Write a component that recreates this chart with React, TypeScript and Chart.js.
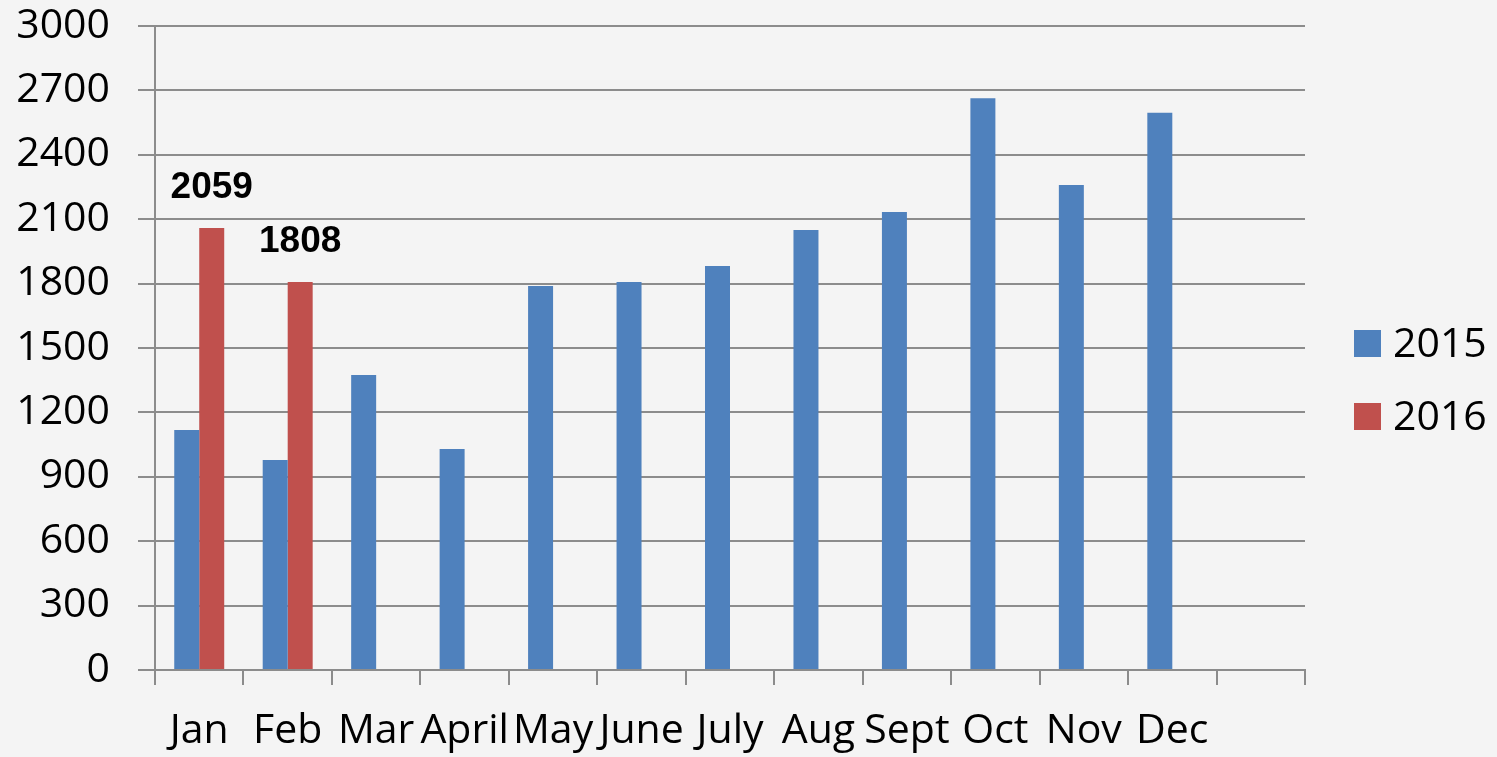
import React, { useEffect, useRef } from "react";
import { Chart, registerables } from "chart.js";

Chart.register(...registerables);

const months = ["Jan", "Feb", "Mar", "April", "May", "June", "July", "Aug", "Sept", "Oct", "Nov", "Dec", ""];
const values2015 = [1118, 978, 1374, 1029, 1789, 1807, 1882, 2050, 2133, 2663, 2259, 2596, null];
const values2016 = [2059, 1808, null, null, null, null, null, null, null, null, null, null, null];
const seriesNames = ["2015", "2016"];
const seriesColors = ["#4f81bd", "#c0504d"];
const yMin = 0;
const yMax = 3000;
const yStep = 300;

const FONT = "'Open Sans', sans-serif";
const FONT_SIZE = 41;

const valueLabelPlugin = {
  id: "valueLabels",
  afterDatasetsDraw(chart: any) {
    const ctx = chart.ctx;
    const meta = chart.getDatasetMeta(1);
    const data = chart.data.datasets[1].data;
    ctx.save();
    ctx.font = "bold 37px 'Liberation Sans', Arial, sans-serif";
    ctx.fillStyle = "#000000";
    ctx.textAlign = "center";
    ctx.textBaseline = "alphabetic";
    meta.data.forEach((el: any, i: number) => {
      const v = data[i];
      if (v === null || v === undefined) return;
      ctx.fillText(String(v), el.x, el.y - 30);
    });
    ctx.restore();
  },
};

const sideLegendPlugin = {
  id: "sideLegend",
  afterDraw(chart: any) {
    const ctx = chart.ctx;
    const area = chart.chartArea;
    const box = 27;
    const rowGap = 73;
    const x = area.right + 49;
    const mid = (area.top + area.bottom) / 2;
    const firstTop = mid - 18;
    ctx.save();
    ctx.font = `${FONT_SIZE}px ${FONT}`;
    ctx.textAlign = "left";
    ctx.textBaseline = "alphabetic";
    chart.data.datasets.forEach((ds: any, i: number) => {
      const top = firstTop + i * rowGap;
      ctx.fillStyle = ds.backgroundColor;
      ctx.fillRect(x, top, box, box);
      ctx.fillStyle = "#000000";
      ctx.fillText(ds.label, x + box + 12, top + box);
    });
    ctx.restore();
  },
};

export default function App() {
  const ref = useRef<HTMLCanvasElement>(null);
  useEffect(() => {
    document.body.style.margin = "0";
    const chart = new Chart(ref.current!, {
      type: "bar",
      data: {
        labels: months,
        datasets: [
          { label: seriesNames[0], data: values2015, backgroundColor: seriesColors[0], categoryPercentage: 0.565, barPercentage: 1 },
          { label: seriesNames[1], data: values2016, backgroundColor: seriesColors[1], categoryPercentage: 0.565, barPercentage: 1 },
        ],
      },
      options: {
        animation: false,
        responsive: false,
        maintainAspectRatio: false,
        layout: { padding: { top: 26, left: 0, right: 192, bottom: 0 } },
        plugins: {
          legend: { display: false },
          tooltip: { enabled: false },
        },
        scales: {
          x: {
            offset: true,
            afterFit(s: any) {
              s.height = 87;
              s.paddingLeft = 0;
              s.paddingRight = 0;
            },
            grid: {
              offset: true,
              drawOnChartArea: false,
              drawTicks: true,
              tickLength: 15,
              color: "#8c8c8c",
              lineWidth: 2,
            },
            border: { color: "#8c8c8c", width: 2 },
            ticks: {
              color: "#000000",
              font: { family: FONT, size: FONT_SIZE },
              padding: 22,
              maxRotation: 0,
              autoSkip: false,
            },
          },
          y: {
            min: yMin,
            max: yMax,
            afterFit(s: any) {
              s.width = 155;
              s.paddingTop = 0;
              s.paddingBottom = 0;
            },
            grid: { color: "#8c8c8c", lineWidth: 2, tickLength: 17 },
            border: { color: "#8c8c8c", width: 2 },
            ticks: {
              stepSize: yStep,
              color: "#000000",
              font: { family: FONT, size: FONT_SIZE },
              padding: 28,
              callback: (v: any) => String(v),
            },
          },
        },
      },
      plugins: [valueLabelPlugin, sideLegendPlugin],
    });
    return () => chart.destroy();
  }, []);
  return (
    <div style={{ width: 1497, height: 757, background: "#f4f4f4" }}>
      <canvas ref={ref} width={1497} height={757} />
    </div>
  );
}
